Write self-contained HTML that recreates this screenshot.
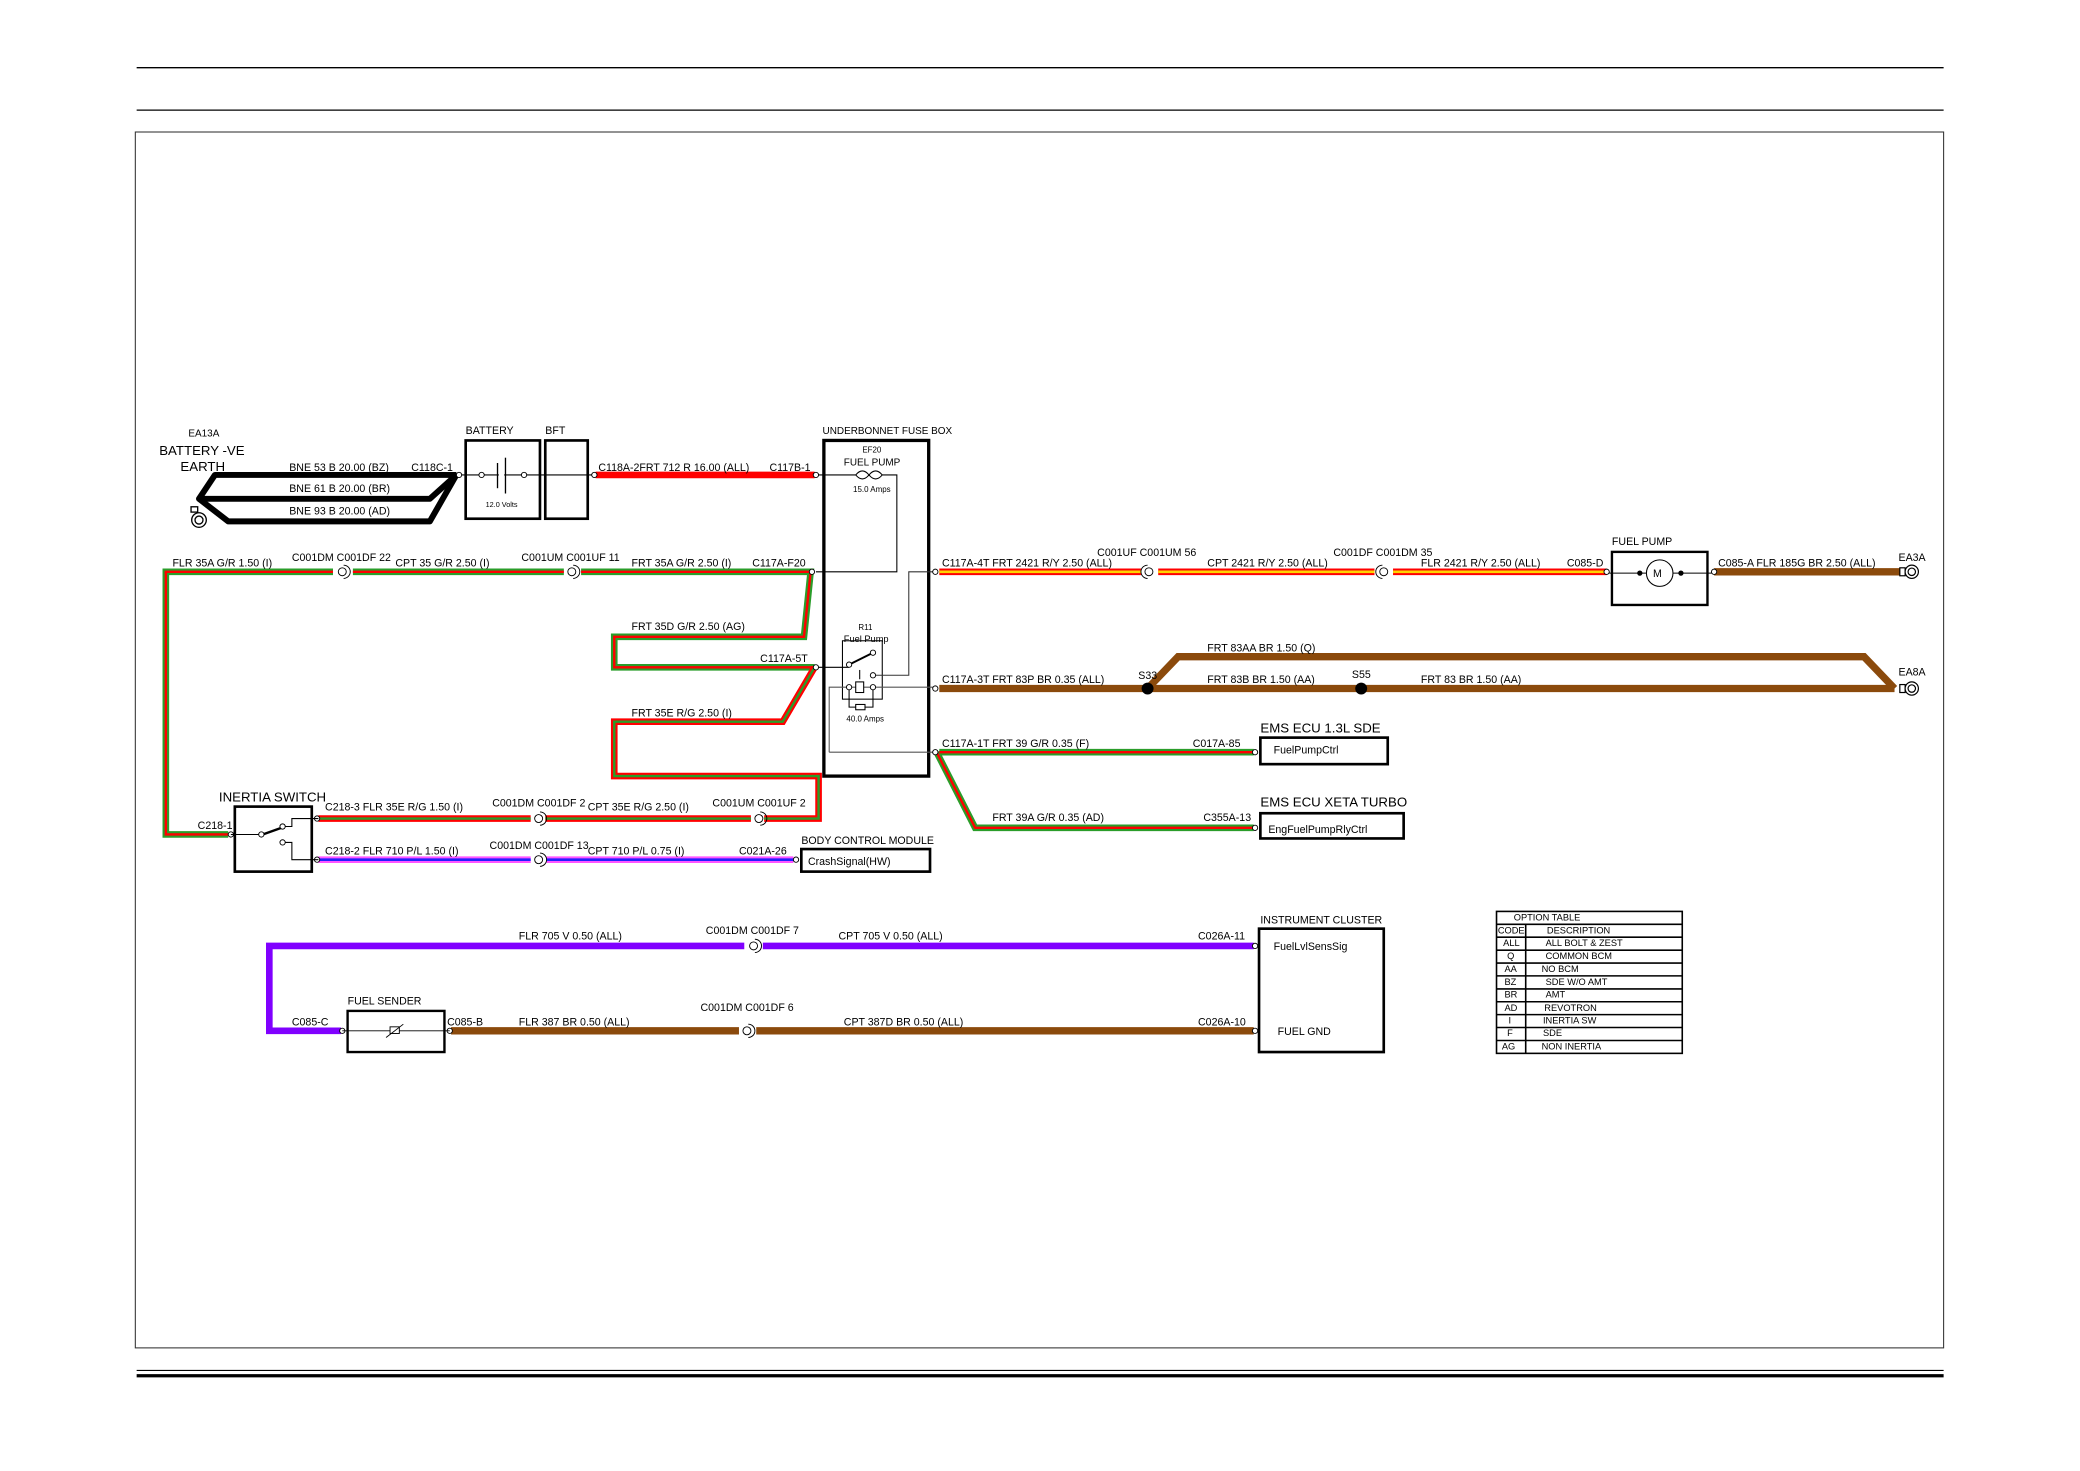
<!DOCTYPE html>
<html><head><meta charset="utf-8"><style>
html,body{margin:0;padding:0;background:#fff}
svg{display:block}
text{font-family:"Liberation Sans Narrow","Liberation Sans",sans-serif;font-size:8px;fill:#000}
.s{font-size:6px}
.b{font-size:10.5px}
</style></head><body>
<svg width="2080" height="1471" viewBox="0 0 1567.8 1108.8" preserveAspectRatio="none" xmlns="http://www.w3.org/2000/svg">
<rect width="1570" height="1110" fill="#fff"/>
<g stroke="#000" fill="none">
<line x1="103" y1="51" x2="1465" y2="51" stroke-width="1"/>
<line x1="103" y1="83" x2="1465" y2="83" stroke-width="1"/>
<rect x="102" y="99.5" width="1363" height="916.5" stroke-width="0.8" stroke="#333"/>
<line x1="103" y1="1033" x2="1465" y2="1033" stroke-width="0.8"/>
<line x1="103" y1="1037" x2="1465" y2="1037" stroke-width="2.5"/>
</g>

<!-- black battery earth wires -->
<g stroke="#000" stroke-width="4.5" fill="none" stroke-linejoin="round">
<path d="M344,358 L162,358 L150,376 L324,376 L344,358"/>
<path d="M150,376 L172,393 L324,393 L344,358"/>
</g>
<g stroke="#000" fill="#fff" stroke-width="1">
<rect x="144" y="382" width="5" height="4"/>
<circle cx="150" cy="392" r="5.5"/><circle cx="150" cy="392" r="3"/>
</g>
<text x="142" y="329" class="s" style="font-size:7.5px">EA13A</text>
<text x="120" y="343" class="b" style="font-size:10px">BATTERY -VE</text>
<text x="136" y="355" class="b" style="font-size:10px">EARTH</text>
<text x="218" y="355">BNE  53 B 20.00 (BZ)</text>
<text x="310" y="355">C118C-1</text>
<text x="218" y="371">BNE  61 B 20.00 (BR)</text>
<text x="218" y="388">BNE  93 B 20.00 (AD)</text>

<!-- battery / BFT -->
<g stroke="#000" fill="none">
<rect x="351" y="332" width="56" height="59" stroke-width="2"/>
<rect x="411" y="332" width="32" height="59" stroke-width="2"/>
<line x1="346" y1="358" x2="448" y2="358" stroke-width="0.8"/>
<line x1="375" y1="349" x2="375" y2="368" stroke-width="1"/>
<line x1="381" y1="345" x2="381" y2="372" stroke-width="1"/>
</g>
<rect x="376" y="355" width="4" height="6" fill="#fff"/>
<g stroke="#000" fill="#fff" stroke-width="0.7"><circle cx="363" cy="358" r="2"/><circle cx="395" cy="358" r="2"/></g>
<text x="366" y="382" class="s" style="font-size:5.5px">12.0 Volts</text>
<text x="351" y="327">BATTERY</text>
<text x="411" y="327">BFT</text>

<!-- red battery feed -->
<line x1="449" y1="358" x2="614" y2="358" stroke="#f00" stroke-width="5"/>
<text x="451" y="355">C118A-2FRT  712 R 16.00 (ALL)</text>
<text x="580" y="355">C117B-1</text>

<!-- fuse box -->
<rect x="621" y="332" width="79" height="253" fill="none" stroke="#000" stroke-width="2.5"/>
<text x="620" y="327" style="font-size:7.5px">UNDERBONNET FUSE BOX</text>
<text x="650" y="341" class="s">EF20</text>
<text x="636" y="351" style="font-size:7.5px">FUEL PUMP</text>
<text x="643" y="371" class="s">15.0 Amps</text>
<g fill="none" stroke="#000" stroke-width="0.8">
<polyline points="615,358 645,358"/>
<path d="M645,358 q5,-6 10,0 q5,6 10,0 q-5,-6 -10,0 q-5,6 -10,0"/>
<polyline points="665,358 676,358 676,431 615,431"/>
<polyline points="615,503 640,503"/>
<rect x="635" y="483" width="30" height="44"/>
<line x1="640" y1="501" x2="658" y2="492" stroke-width="1.5"/>
<polyline points="658,509 685,509 685,431 705,431" stroke="#333"/>
<polyline points="625,567 625,518 705,518" stroke="#555"/>
<polyline points="625,567 705,567" stroke="#555"/>
<line x1="648" y1="505" x2="648" y2="512"/>
<rect x="645" y="514" width="6" height="8" fill="#fff"/>
<polyline points="640,518 640,533 658,533 658,518"/>
<rect x="645" y="531" width="7" height="4" fill="#fff"/>
</g>
<g stroke="#000" fill="#fff" stroke-width="0.7">
<circle cx="640" cy="501" r="2"/><circle cx="658" cy="492" r="2"/><circle cx="658" cy="509" r="2"/>
<circle cx="640" cy="518" r="2"/><circle cx="658" cy="518" r="2"/>
</g>
<text x="647" y="475" class="s">R11</text>
<text x="636" y="484" style="font-size:7px">Fuel Pump</text>
<text x="638" y="544" class="s">40.0 Amps</text>

<!-- G/R network -->
<g fill="none" stroke-linejoin="miter">
<g stroke="#2a9d2a" stroke-width="5">
<polyline points="172,629 125,629 125,431 251,431"/>
<line x1="266" y1="431" x2="425" y2="431"/>
<polyline points="438,431 611,431 606,480 463,480 463,503 614,503"/>
</g>
<g stroke="#f00" stroke-width="1.8">
<polyline points="172,629 125,629 125,431 251,431"/>
<line x1="266" y1="431" x2="425" y2="431"/>
<polyline points="438,431 611,431 606,480 463,480 463,503 614,503"/>
</g>
<g stroke="#f00" stroke-width="5">
<polyline points="614,503 590,544 463,544 463,585 617,585 617,617 576,617"/>
<line x1="566" y1="617" x2="411" y2="617"/>
<line x1="400" y1="617" x2="240" y2="617"/>
</g>
<g stroke="#2a9d2a" stroke-width="1.8">
<polyline points="614,503 590,544 463,544 463,585 617,585 617,617 576,617"/>
<line x1="566" y1="617" x2="411" y2="617"/>
<line x1="400" y1="617" x2="240" y2="617"/>
</g>
<!-- P/L -->
<g stroke="#ff55ff" stroke-width="5"><line x1="240" y1="648" x2="400" y2="648"/><line x1="412" y1="648" x2="598" y2="648"/></g>
<g stroke="#2020ff" stroke-width="2"><line x1="240" y1="648" x2="400" y2="648"/><line x1="412" y1="648" x2="598" y2="648"/></g>
<!-- R/Y -->
<g stroke="#f00" stroke-width="5"><line x1="708" y1="431" x2="860" y2="431"/><line x1="873" y1="431" x2="1036" y2="431"/><line x1="1050" y1="431" x2="1211" y2="431"/></g>
<g stroke="#ffd400" stroke-width="2"><line x1="708" y1="431" x2="860" y2="431"/><line x1="873" y1="431" x2="1036" y2="431"/><line x1="1050" y1="431" x2="1211" y2="431"/></g>
<!-- brown -->
<g stroke="#8b4a0c" stroke-width="5.5">
<line x1="1292" y1="431" x2="1432" y2="431"/>
<line x1="708" y1="519" x2="1428" y2="519"/>
<polyline points="865,519 888,495 1405,495 1428,519"/>
<line x1="340" y1="777" x2="557" y2="777"/>
<line x1="570" y1="777" x2="945" y2="777"/>
</g>
<!-- G/R to ECUs -->
<g stroke="#2a9d2a" stroke-width="5"><line x1="708" y1="567" x2="945" y2="567"/><polyline points="706,567 735,624 945,624"/></g>
<g stroke="#f00" stroke-width="1.8"><line x1="708" y1="567" x2="945" y2="567"/><polyline points="706,567 735,624 945,624"/></g>
<!-- violet -->
<g stroke="#8000ff" stroke-width="5">
<line x1="945" y1="713" x2="575" y2="713"/>
<polyline points="561,713 203,713 203,777 257,777"/>
</g>
</g>
<g fill="#000"><circle cx="865" cy="519" r="4.5"/><circle cx="1026" cy="519" r="4.5"/></g>

<!-- inline connectors -->
<g fill="#fff" stroke="#000" stroke-width="0.7">
<circle cx="258" cy="431" r="3"/><circle cx="431" cy="431" r="3"/>
<circle cx="406" cy="617" r="3"/><circle cx="572" cy="617" r="3"/>
<circle cx="406" cy="648" r="3"/>
<circle cx="866" cy="431" r="3"/><circle cx="1043" cy="431" r="3"/>
<circle cx="568" cy="713" r="3"/><circle cx="563" cy="777" r="3"/>
</g>
<g fill="none" stroke="#000" stroke-width="0.7">
<path d="M259,426 a5,5 0 0 1 0,10"/><path d="M432,426 a5,5 0 0 1 0,10"/>
<path d="M407,612 a5,5 0 0 1 0,10"/><path d="M573,612 a5,5 0 0 1 0,10"/>
<path d="M407,643 a5,5 0 0 1 0,10"/>
<path d="M865,426 a5,5 0 0 0 0,10"/><path d="M1042,426 a5,5 0 0 0 0,10"/>
<path d="M569,708 a5,5 0 0 1 0,10"/><path d="M564,772 a5,5 0 0 1 0,10"/>
</g>
<!-- end pins -->
<g fill="#fff" stroke="#000" stroke-width="0.7">
<circle cx="346" cy="358" r="2"/><circle cx="448" cy="358" r="2"/><circle cx="615" cy="358" r="2"/>
<circle cx="612" cy="431" r="2"/><circle cx="615" cy="503" r="2"/>
<circle cx="705" cy="431" r="2"/><circle cx="705" cy="519" r="2"/><circle cx="705" cy="567" r="2"/>
<circle cx="174" cy="629" r="2"/><circle cx="239" cy="617" r="2"/><circle cx="239" cy="648" r="2"/>
<circle cx="600" cy="648" r="2"/><circle cx="946" cy="567" r="2"/><circle cx="946" cy="624" r="2"/>
<circle cx="1211" cy="431" r="2"/><circle cx="1292" cy="431" r="2"/>
<circle cx="946" cy="713" r="2"/><circle cx="946" cy="777" r="2"/>
<circle cx="258" cy="777" r="2"/><circle cx="339" cy="777" r="2"/>
</g>

<!-- grounds right -->
<g stroke="#000" fill="#fff" stroke-width="0.9">
<rect x="1432" y="428" width="4" height="6"/><circle cx="1441" cy="431" r="5"/><circle cx="1441" cy="431" r="2.8"/>
<rect x="1432" y="516" width="4" height="6"/><circle cx="1441" cy="519" r="5"/><circle cx="1441" cy="519" r="2.8"/>
</g>
<text x="1431" y="423">EA3A</text>
<text x="1431" y="509">EA8A</text>

<!-- fuel pump -->
<rect x="1215" y="416" width="72" height="40" fill="none" stroke="#000" stroke-width="1.8"/>
<line x1="1213" y1="432" x2="1290" y2="432" stroke="#000" stroke-width="0.7"/>
<circle cx="1251" cy="432" r="10" fill="#fff" stroke="#000" stroke-width="0.8"/>
<circle cx="1236" cy="432" r="2" fill="#000"/><circle cx="1267" cy="432" r="2" fill="#000"/>
<text x="1246" y="435" style="font-size:8px">M</text>
<text x="1215" y="411">FUEL PUMP</text>

<!-- inertia switch -->
<rect x="177" y="608" width="58" height="49" fill="none" stroke="#000" stroke-width="2"/>
<g fill="none" stroke="#000" stroke-width="0.8">
<polyline points="174,629 196,629"/>
<line x1="198" y1="629" x2="212" y2="624" stroke-width="1.8"/>
<polyline points="214,623 220,623 220,617 240,617"/>
<polyline points="214,635 220,635 220,648 240,648"/>
</g>
<g fill="#fff" stroke="#000" stroke-width="0.7"><circle cx="197" cy="629" r="2"/><circle cx="213" cy="623" r="2"/><circle cx="213" cy="635" r="2"/></g>
<text x="165" y="604" class="b" style="font-size:10px">INERTIA SWITCH</text>
<text x="149" y="625">C218-1</text>

<!-- fuel sender -->
<rect x="262" y="762" width="73" height="31" fill="none" stroke="#000" stroke-width="1.8"/>
<g stroke="#000" stroke-width="0.7" fill="none">
<line x1="258" y1="777" x2="339" y2="777"/>
<rect x="294" y="774" width="7" height="5" fill="#fff"/>
<line x1="291" y1="782" x2="304" y2="772"/>
</g>
<text x="262" y="757">FUEL SENDER</text>
<text x="220" y="773">C085-C</text>
<text x="337" y="773">C085-B</text>

<!-- boxes -->
<g fill="none" stroke="#000" stroke-width="2">
<rect x="604" y="640" width="97" height="17"/>
<rect x="950" y="556" width="96" height="20"/>
<rect x="950" y="613" width="108" height="19"/>
<rect x="949" y="700" width="94" height="93"/>
</g>
<text x="604" y="636">BODY CONTROL MODULE</text>
<text x="609" y="652">CrashSignal(HW)</text>
<text x="950" y="552" class="b" style="font-size:10px">EMS ECU 1.3L SDE</text>
<text x="960" y="568">FuelPumpCtrl</text>
<text x="950" y="608" class="b" style="font-size:10px">EMS ECU XETA TURBO</text>
<text x="956" y="628">EngFuelPumpRlyCtrl</text>
<text x="950" y="696">INSTRUMENT CLUSTER</text>
<text x="960" y="716">FuelLvlSensSig</text>
<text x="963" y="780">FUEL GND</text>

<!-- wire labels -->
<text x="130" y="427">FLR  35A G/R 1.50 (I)</text>
<text x="220" y="423">C001DM C001DF 22</text>
<text x="298" y="427">CPT  35 G/R 2.50 (I)</text>
<text x="393" y="423">C001UM C001UF 11</text>
<text x="476" y="427">FRT  35A G/R 2.50 (I)</text>
<text x="567" y="427">C117A-F20</text>
<text x="476" y="475">FRT  35D G/R 2.50 (AG)</text>
<text x="573" y="499">C117A-5T</text>
<text x="476" y="540">FRT  35E R/G 2.50 (I)</text>
<text x="245" y="611">C218-3 FLR  35E R/G 1.50 (I)</text>
<text x="371" y="608">C001DM C001DF 2</text>
<text x="443" y="611">CPT  35E R/G 2.50 (I)</text>
<text x="537" y="608">C001UM C001UF 2</text>
<text x="245" y="644">C218-2 FLR  710 P/L 1.50 (I)</text>
<text x="369" y="640">C001DM C001DF 13</text>
<text x="443" y="644">CPT  710 P/L 0.75 (I)</text>
<text x="557" y="644">C021A-26</text>
<text x="710" y="427">C117A-4T FRT  2421 R/Y 2.50 (ALL)</text>
<text x="827" y="419">C001UF C001UM 56</text>
<text x="910" y="427">CPT  2421 R/Y 2.50 (ALL)</text>
<text x="1005" y="419">C001DF C001DM 35</text>
<text x="1071" y="427">FLR  2421 R/Y 2.50 (ALL)</text>
<text x="1181" y="427">C085-D</text>
<text x="1295" y="427">C085-A  FLR  185G BR 2.50 (ALL)</text>
<text x="710" y="515">C117A-3T FRT  83P BR 0.35 (ALL)</text>
<text x="858" y="512">S33</text>
<text x="910" y="491">FRT  83AA BR 1.50 (Q)</text>
<text x="910" y="515">FRT  83B BR 1.50 (AA)</text>
<text x="1019" y="511">S55</text>
<text x="1071" y="515">FRT  83 BR 1.50 (AA)</text>
<text x="710" y="563">C117A-1T FRT  39 G/R 0.35 (F)</text>
<text x="899" y="563">C017A-85</text>
<text x="748" y="619">FRT  39A G/R 0.35 (AD)</text>
<text x="907" y="619">C355A-13</text>
<text x="391" y="708">FLR  705 V 0.50 (ALL)</text>
<text x="532" y="704">C001DM C001DF 7</text>
<text x="632" y="708">CPT  705 V 0.50 (ALL)</text>
<text x="903" y="708">C026A-11</text>
<text x="391" y="773">FLR  387 BR 0.50 (ALL)</text>
<text x="528" y="762">C001DM C001DF 6</text>
<text x="636" y="773">CPT  387D BR 0.50 (ALL)</text>
<text x="903" y="773">C026A-10</text>

<!-- option table -->
<g fill="none" stroke="#000" stroke-width="1.2">
<rect x="1128" y="687" width="140" height="107"/>
<line x1="1128" y1="696.7" x2="1268" y2="696.7"/>
<line x1="1128" y1="706.4" x2="1268" y2="706.4"/>
<line x1="1128" y1="716.2" x2="1268" y2="716.2"/>
<line x1="1128" y1="725.9" x2="1268" y2="725.9"/>
<line x1="1128" y1="735.6" x2="1268" y2="735.6"/>
<line x1="1128" y1="745.4" x2="1268" y2="745.4"/>
<line x1="1128" y1="755.1" x2="1268" y2="755.1"/>
<line x1="1128" y1="764.8" x2="1268" y2="764.8"/>
<line x1="1128" y1="774.5" x2="1268" y2="774.5"/>
<line x1="1128" y1="784.3" x2="1268" y2="784.3"/>
<line x1="1150" y1="696.7" x2="1150" y2="794"/>
</g>
<g>
<text x="1141" y="694" style="font-size:7px">OPTION TABLE</text>
<text x="1129" y="703.5" style="font-size:7px">CODE</text><text x="1166" y="703.5" style="font-size:7px">DESCRIPTION</text>
<text x="1133" y="713" style="font-size:7px">ALL</text><text x="1165" y="713" style="font-size:7px">ALL BOLT &amp; ZEST</text>
<text x="1136" y="723" style="font-size:7px">Q</text><text x="1165" y="723" style="font-size:7px">COMMON BCM</text>
<text x="1134" y="732.5" style="font-size:7px">AA</text><text x="1162" y="732.5" style="font-size:7px">NO BCM</text>
<text x="1134" y="742.5" style="font-size:7px">BZ</text><text x="1165" y="742.5" style="font-size:7px">SDE W/O AMT</text>
<text x="1134" y="752" style="font-size:7px">BR</text><text x="1165" y="752" style="font-size:7px">AMT</text>
<text x="1134" y="762" style="font-size:7px">AD</text><text x="1164" y="762" style="font-size:7px">REVOTRON</text>
<text x="1137" y="771.5" style="font-size:7px">I</text><text x="1163" y="771.5" style="font-size:7px">INERTIA SW</text>
<text x="1136" y="781" style="font-size:7px">F</text><text x="1163" y="781" style="font-size:7px">SDE</text>
<text x="1132" y="791" style="font-size:7px">AG</text><text x="1162" y="791" style="font-size:7px">NON INERTIA</text>
</g>
</svg>
</body></html>
